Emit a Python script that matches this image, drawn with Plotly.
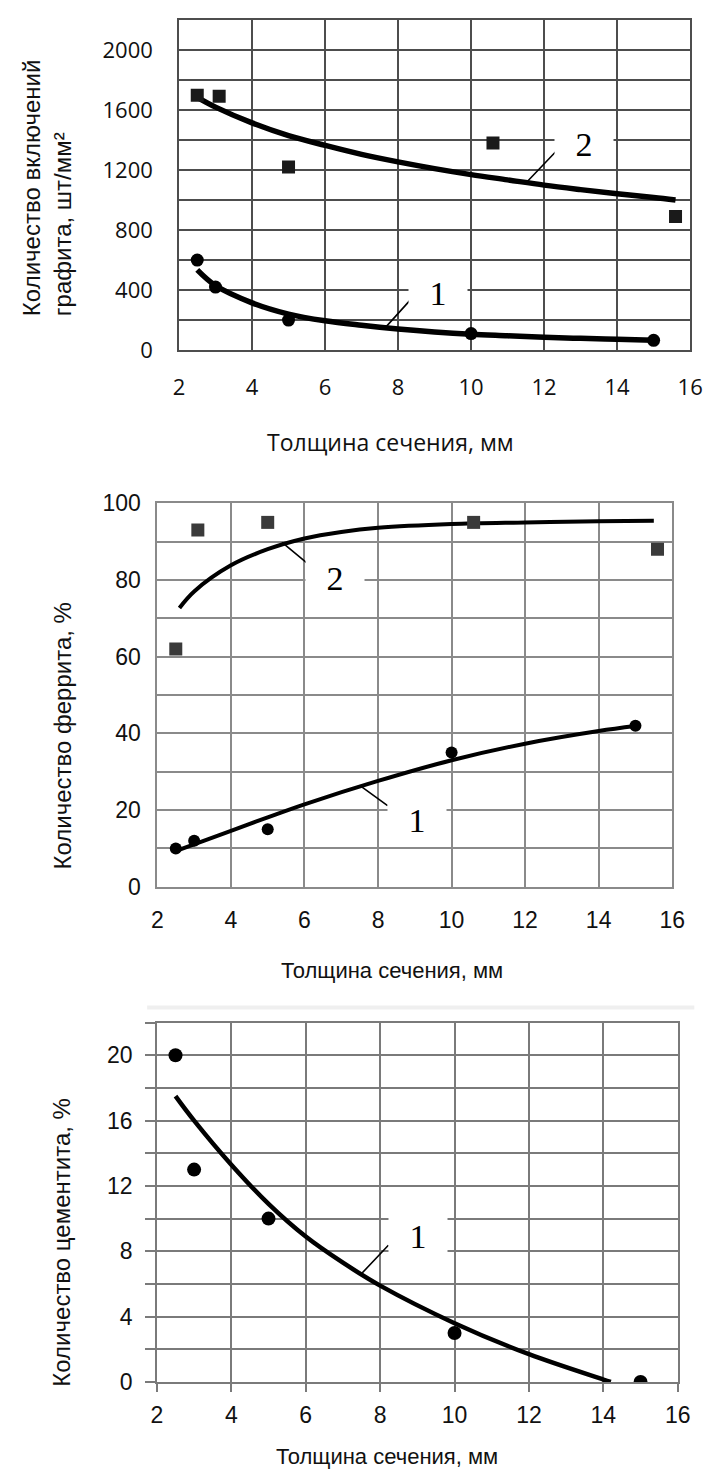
import plotly.graph_objects as go

# ---------------- Data ----------------
# Chart A: graphite inclusions, pcs/mm^2
a_x1 = [2.5, 3, 5, 10, 15]
a_y1 = [600, 420, 200, 110, 65]
a_x2 = [2.5, 3.1, 5, 10.6, 15.6]
a_y2 = [1700, 1692, 1220, 1380, 890]
a_fit1_x = [2.5, 3, 4, 5, 6, 7, 8, 9, 10, 11, 12, 13, 14, 15]
a_fit1_y = [535, 430, 315, 240, 195, 165, 140, 120, 105, 95, 85, 78, 72, 66]
a_fit2_x = [2.5, 3, 4, 5, 6, 7, 8, 9, 10, 11, 12, 13, 14, 15, 15.6]
a_fit2_y = [1685, 1620, 1515, 1430, 1365, 1305, 1255, 1210, 1170, 1135, 1100, 1070, 1042, 1017, 1000]

# Chart B: ferrite, %
b_x1 = [2.5, 3, 5, 10, 15]
b_y1 = [10, 12, 15, 35, 42]
b_x2 = [2.5, 3.1, 5, 10.6, 15.6]
b_y2 = [62, 93, 95, 95, 88]
b_fit1_x = [2.55, 4, 5, 6, 8, 10, 12, 14, 15]
b_fit1_y = [9.5, 14.6, 18.1, 21.5, 27.6, 33.0, 37.3, 40.6, 41.9]
b_fit2_x = [2.6, 3, 4, 5, 6, 7, 8, 10, 12, 14, 15.5]
b_fit2_y = [72.7, 77.0, 83.8, 88.0, 90.8, 92.5, 93.6, 94.6, 95.0, 95.3, 95.4]

# Chart C: cementite, %
c_x = [2.5, 3, 5, 10, 15]
c_y = [20, 13, 10, 3, 0]
c_fit_x = [2.5, 3, 4, 5, 6, 7, 8, 10, 12, 14, 14.2]
c_fit_y = [17.5, 16.0, 13.3, 10.9, 8.9, 7.3, 5.9, 3.6, 1.7, 0.15, 0]

x_title = "Толщина сечения, мм"
a_ytitle = "Количество включений<br>графита, шт/мм²"
b_ytitle = "Количество феррита, %"
c_ytitle = "Количество цементита, %"

W, H = 719, 1482
SANS = "Liberation Sans, Arial, sans-serif"
CAL = "Open Sans, sans-serif"
SERIF = "Liberation Serif, Times New Roman, serif"

fig = go.Figure()

# ---- Chart A ----
fig.add_trace(go.Scatter(x=a_fit1_x, y=a_fit1_y, mode="lines",
                         line=dict(color="black", width=5.5, shape="spline"), xaxis="x", yaxis="y"))
fig.add_trace(go.Scatter(x=a_fit2_x, y=a_fit2_y, mode="lines",
                         line=dict(color="black", width=5.5, shape="spline"), xaxis="x", yaxis="y"))
fig.add_trace(go.Scatter(x=a_x1, y=a_y1, mode="markers",
                         marker=dict(symbol="circle", size=13, color="black"), xaxis="x", yaxis="y"))
fig.add_trace(go.Scatter(x=a_x2, y=a_y2, mode="markers",
                         marker=dict(symbol="square", size=13, color="#1a1a1a"), xaxis="x", yaxis="y"))

# ---- Chart B ----
fig.add_trace(go.Scatter(x=b_fit1_x, y=b_fit1_y, mode="lines",
                         line=dict(color="black", width=4, shape="spline"), xaxis="x2", yaxis="y2"))
fig.add_trace(go.Scatter(x=b_fit2_x, y=b_fit2_y, mode="lines",
                         line=dict(color="black", width=4, shape="spline"), xaxis="x2", yaxis="y2"))
fig.add_trace(go.Scatter(x=b_x1, y=b_y1, mode="markers",
                         marker=dict(symbol="circle", size=12, color="black"), xaxis="x2", yaxis="y2"))
fig.add_trace(go.Scatter(x=b_x2, y=b_y2, mode="markers",
                         marker=dict(symbol="square", size=13, color="#3a3a3a"), xaxis="x2", yaxis="y2"))

# ---- Chart C ----
fig.add_trace(go.Scatter(x=c_fit_x, y=c_fit_y, mode="lines",
                         line=dict(color="black", width=4.5, shape="spline"), xaxis="x3", yaxis="y3"))
fig.add_trace(go.Scatter(x=c_x, y=c_y, mode="markers",
                         marker=dict(symbol="circle", size=14, color="black"), xaxis="x3", yaxis="y3"))


def px_x(p):
    return p / W


def px_y(p):
    return 1 - p / H


def xax(domain, anchor, gc, gw, font, standoff, ticks="", ticklen=0):
    return dict(domain=domain, anchor=anchor, range=[2, 16], tick0=2, dtick=2,
                showgrid=True, gridcolor=gc, gridwidth=gw, zeroline=False,
                showline=True, linecolor=gc, linewidth=gw, mirror=True,
                ticks=ticks, ticklen=ticklen, tickcolor=gc, tickwidth=gw,
                tickfont=font, ticklabelstandoff=standoff, fixedrange=True)


def yax(domain, anchor, rng, dtick, mdtick, gc, gw, font, standoff, ticks="", ticklen=0):
    return dict(domain=domain, anchor=anchor, range=rng, tick0=0, dtick=dtick,
                showgrid=True, gridcolor=gc, gridwidth=gw, zeroline=False,
                showline=True, linecolor=gc, linewidth=gw, mirror=True,
                ticks=ticks, ticklen=ticklen, tickcolor=gc, tickwidth=gw,
                minor=dict(dtick=mdtick, tick0=0, showgrid=True, gridcolor=gc, gridwidth=gw,
                           ticks=ticks, ticklen=ticklen, tickcolor=gc, tickwidth=gw),
                tickfont=font, ticklabelstandoff=standoff, fixedrange=True)


fa = dict(family=CAL, size=22, color="#111")
fb = dict(family=SANS, size=23, color="#111")

fig.update_layout(
    width=W, height=H, margin=dict(l=0, r=0, t=0, b=0),
    paper_bgcolor="white", plot_bgcolor="white", showlegend=False,
    xaxis=xax([px_x(177.7), px_x(702.7)], "y", "#4d4d4d", 1.5, fa, 17),
    yaxis=yax([px_y(343.3), px_y(7.3)], "x", [0, 2200], 400, 200, "#4d4d4d", 1.5, fa, 20),
    xaxis2=xax([px_x(155.5), px_x(684.3)], "y2", "#8a8a8a", 1.8, fb, 12),
    yaxis2=yax([px_y(890), px_y(499.3)], "x2", [0, 100], 20, 10, "#8a8a8a", 1.8, fb, 10),
    xaxis3=xax([px_x(155), px_x(690)], "y3", "#7a7a7a", 1.6, fb, 4, "outside", 8),
    yaxis3=yax([px_y(1394.4), px_y(1028.3)], "x3", [0, 22], 4, 2, "#7a7a7a", 1.6, fb, 8, "outside", 10),
)

ann = []
# axis titles
ann.append(dict(text=x_title, x=px_x(395), y=px_y(437), xref="paper", yref="paper",
                showarrow=False, font=dict(family=CAL, size=23, color="#111"),
                xanchor="center", yanchor="middle"))
ann.append(dict(text=x_title, x=px_x(396), y=px_y(975), xref="paper", yref="paper",
                showarrow=False, font=dict(family=SANS, size=22, color="#111"),
                xanchor="center", yanchor="middle"))
ann.append(dict(text=x_title, x=px_x(391.5), y=px_y(1470), xref="paper", yref="paper",
                showarrow=False, font=dict(family=SANS, size=22, color="#111"),
                xanchor="center", yanchor="middle"))
ann.append(dict(text=a_ytitle, x=px_x(42), y=px_y(178.5), xref="paper", yref="paper",
                showarrow=False, textangle=-90, align="left",
                font=dict(family=SANS, size=24, color="#111"),
                xanchor="center", yanchor="middle"))
ann.append(dict(text=b_ytitle, x=px_x(58), y=px_y(735.5), xref="paper", yref="paper",
                showarrow=False, textangle=-90, font=dict(family=SANS, size=24, color="#111"),
                xanchor="center", yanchor="middle"))
ann.append(dict(text=c_ytitle, x=px_x(57), y=px_y(1252), xref="paper", yref="paper",
                showarrow=False, textangle=-90, font=dict(family=SANS, size=24, color="#111"),
                xanchor="center", yanchor="middle"))


def leader(xr, yr, x0, y0, x1, y1):
    return dict(text="", x=x1, y=y1, ax=x0, ay=y0, xref=xr, yref=yr, axref=xr, ayref=yr,
                showarrow=True, arrowhead=0, arrowwidth=1.6, arrowcolor="black", standoff=0)


def label(xr, yr, x, y, t, h):
    return dict(text=t, x=x, y=y, xref=xr, yref=yr, showarrow=False, bgcolor="white",
                width=56, height=h, font=dict(family=SERIF, size=34, color="black"),
                xanchor="center", yanchor="middle")


ann.append(leader("x", "y", 8.35, 338, 7.62, 141))
ann.append(leader("x", "y", 12.35, 1331, 11.54, 1124))
ann.append(label("x", "y", 9.1, 382, "1", 40))
ann.append(label("x", "y", 13.1, 1375, "2", 40))

ann.append(leader("x2", "y2", 6.12, 84.0, 5.39, 89.8))
ann.append(leader("x2", "y2", 8.30, 20.9, 7.51, 26.4))
ann.append(label("x2", "y2", 6.82, 80.4, "2", 40))
ann.append(label("x2", "y2", 9.06, 17.5, "1", 40))

ann.append(leader("x3", "y3", 8.26, 8.46, 7.47, 6.56))
ann.append(label("x3", "y3", 9.02, 8.96, "1", 48))

fig.update_layout(annotations=ann)

# faint separator line seen above the third chart
fig.add_shape(type="line", xref="paper", yref="paper", x0=px_x(145), x1=px_x(707),
              y0=px_y(1013), y1=px_y(1013), line=dict(color="#efefef", width=4))

fig.write_html("out.html")
